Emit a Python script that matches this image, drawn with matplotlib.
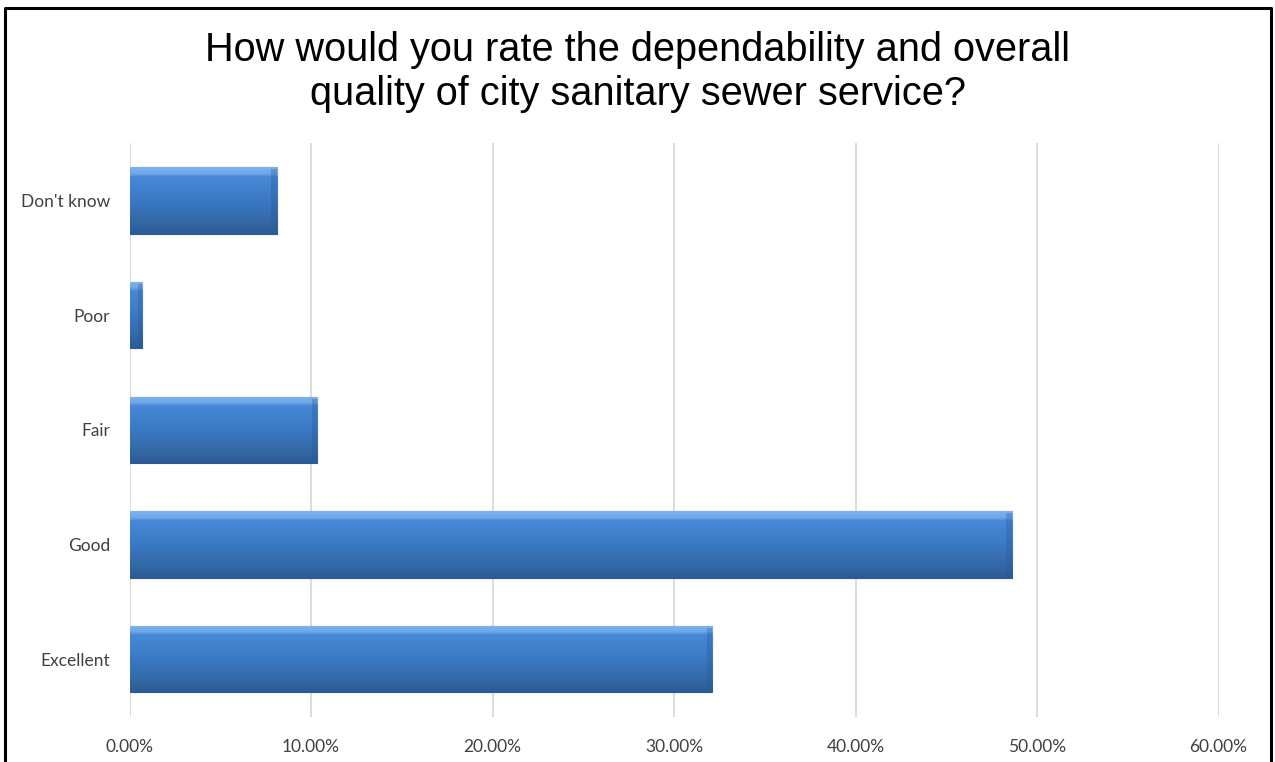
import numpy as np
import matplotlib
matplotlib.use("Agg")
import matplotlib.pyplot as plt
from matplotlib.colors import LinearSegmentedColormap
from matplotlib.lines import Line2D
from matplotlib.ticker import FuncFormatter, MultipleLocator

# data (percent of respondents), bottom to top
categories = ["Excellent", "Good", "Fair", "Poor", "Don't know"]
shares = [32.1, 48.6, 10.35, 0.7, 8.1]

title = ("How would you rate the dependability and overall\n"
         "quality of city sanitary sewer service?")

fig = plt.figure(figsize=(12.75, 7.62), dpi=100)
ax = fig.add_axes([0.1016, 0.0597, 0.8541, 0.7526])

y = np.arange(len(categories))
bar_h = 0.58
bars = ax.barh(y, shares, height=bar_h, color="#3c7bc8",
               edgecolor="#2b5a96", linewidth=0.8, zorder=3)

# vertical gradient to mimic the bevelled office-style bars
grad = LinearSegmentedColormap.from_list(
    "bevel", [(0.0, "#2c5a98"), (0.12, "#31659f"), (0.5, "#3b79c4"),
              (0.86, "#4689d6"), (0.9, "#6ea6e6"), (1.0, "#7db3ee")])
col = np.linspace(0, 1, 200).reshape(-1, 1)
for b in bars:
    x0, y0 = b.get_x(), b.get_y()
    w, h = b.get_width(), b.get_height()
    im = ax.imshow(col, cmap=grad, origin="lower", aspect="auto",
                   extent=[x0, x0 + w, y0, y0 + h], zorder=3.5,
                   interpolation="bilinear")
    im.set_clip_path(b)
    # darker bevel on the right end
    edge = min(0.3, w * 0.3)
    ax.fill_between([x0 + w - edge, x0 + w], y0 + 0.02, y0 + h - 0.02,
                    color="#2a5690", alpha=0.3, linewidth=0, zorder=3.6)

ax.set_xlim(0, 60)
ax.set_ylim(-0.5, len(categories) - 0.5)
ax.xaxis.set_major_locator(MultipleLocator(10))
ax.xaxis.set_major_formatter(FuncFormatter(lambda v, p: f"{v:.2f}%"))
ax.set_yticks(y)
ax.set_yticklabels(categories)

ax.grid(axis="x", color="#d9d9d9", linewidth=1.3, zorder=0)
ax.set_axisbelow(True)
for s in ax.spines.values():
    s.set_visible(False)
ax.tick_params(axis="both", length=0, colors="#404040", labelsize=12.5)
ax.tick_params(axis="x", pad=16)
ax.tick_params(axis="y", pad=14)
for lab in ax.get_xticklabels() + ax.get_yticklabels():
    lab.set_fontfamily("Lato")

fig.text(0.5, 1 - 72 / 762, title, ha="center", va="center", fontsize=28.6,
         family="Liberation Sans", color="#000000", linespacing=1.18)

# black frame around the chart (no bottom edge visible)
fx = [5 / 1275, 5 / 1275, 1271 / 1275, 1271 / 1275]
fy = [0.0, 1 - 8 / 762, 1 - 8 / 762, 0.0]
fig.add_artist(Line2D(fx, fy, color="black", linewidth=2.2,
                      transform=fig.transFigure))

fig.savefig("out.png", dpi=100, facecolor="white")
